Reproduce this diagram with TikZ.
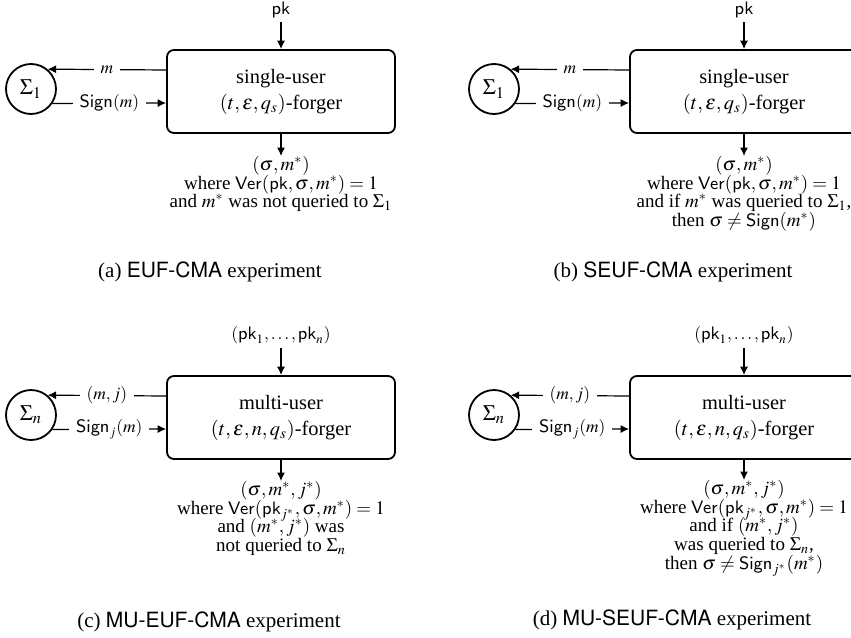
\documentclass[tikz,border=0pt]{standalone}
\usepackage{mathptmx}
\usepackage{fontspec}
\setmainfont{Liberation Serif}
\setsansfont{TeX Gyre Heros}
\usetikzlibrary{arrows.meta}

\tikzset{
  forger/.style={draw, line width=0.9pt, rounded corners=3.5pt,
    minimum width=114pt, minimum height=41.5pt, align=center, inner sep=0pt,
    font=\fontsize{10.2}{13}\selectfont},
  oracle/.style={draw, circle, line width=0.9pt, minimum size=25pt, inner sep=0pt,
    font=\fontsize{11}{12}\selectfont},
  msg/.style={line width=0.6pt, -{Latex[length=4.2pt,width=4pt]}},
  lbl/.style={fill=white, inner xsep=3.5pt, inner ysep=2pt,
    font=\fontsize{8.7}{10}\selectfont},
  outcome/.style={align=center, inner sep=0pt, anchor=north,
    font={\fontsize{9.5}{9.3}\selectfont\lineskiplimit=-6pt}},
  subcaption/.style={inner sep=0pt, font=\fontsize{10.5}{12}\selectfont},
}

\begin{document}
\begin{tikzpicture}[x=0.5pt, y=-0.5pt]
\clip (0,0) rectangle (851,637);

% (a) single-user, existential unforgeability
\node[forger] (a-box) at (281,91.5) {single-user\\$(t,\varepsilon,q_s)$-forger};
\node[oracle] (a-sig) at (31,89) {$\Sigma_1$};
\node[lbl] (a-pk) at (281,10) {$\mathsf{pk}$};
\node[outcome] (a-out) at (281,156) {$(\sigma,m^*)$\\
  where $\mathsf{Ver}(\mathsf{pk},\sigma,m^*)=1$\\
  and $m^*$ was not queried to $\Sigma_1$};
\node[subcaption] (a-cap) at (210,272) {(a) \textsf{EUF-CMA} experiment};
\draw[msg] (a-pk) -- (a-box);
\draw[msg] ([yshift=10.75pt]a-box.west) -- node[lbl] {$m$} (a-sig.50);
\draw[msg] (a-sig.-34) -- node[lbl] {$\mathsf{Sign}(m)$} ([yshift=-5.75pt]a-box.west);
\draw[msg] (a-box) -- (a-out);

% (b) single-user, strong unforgeability
\node[forger] (b-box) at (744,91.5) {single-user\\$(t,\varepsilon,q_s)$-forger};
\node[oracle] (b-sig) at (494,89) {$\Sigma_1$};
\node[lbl] (b-pk) at (744,10) {$\mathsf{pk}$};
\node[outcome] (b-out) at (744,156) {$(\sigma,m^*)$\\
  where $\mathsf{Ver}(\mathsf{pk},\sigma,m^*)=1$\\
  and if $m^*$ was queried to $\Sigma_1$,\\
  then $\sigma\neq\mathsf{Sign}(m^*)$};
\node[subcaption] (b-cap) at (673,272) {(b) \textsf{SEUF-CMA} experiment};
\draw[msg] (b-pk) -- (b-box);
\draw[msg] ([yshift=10.75pt]b-box.west) -- node[lbl] {$m$} (b-sig.50);
\draw[msg] (b-sig.-34) -- node[lbl] {$\mathsf{Sign}(m)$} ([yshift=-5.75pt]b-box.west);
\draw[msg] (b-box) -- (b-out);

% (c) multi-user, existential unforgeability
\node[forger] (c-box) at (281,417.5) {multi-user\\$(t,\varepsilon,n,q_s)$-forger};
\node[oracle] (c-sig) at (31,415) {$\Sigma_n$};
\node[lbl] (c-pk) at (281,335) {$(\mathsf{pk}_1,\ldots,\mathsf{pk}_n)$};
\node[outcome] (c-out) at (281,481) {$(\sigma,m^*,j^*)$\\
  where $\mathsf{Ver}(\mathsf{pk}_{j^*},\sigma,m^*)=1$\\
  and $(m^*,j^*)$ was\\
  not queried to $\Sigma_n$};
\node[subcaption] (c-cap) at (209,622) {(c) \textsf{MU-EUF-CMA} experiment};
\draw[msg] (c-pk) -- (c-box);
\draw[msg] ([yshift=10.75pt]c-box.west) -- node[lbl] {$(m,j)$} (c-sig.50);
\draw[msg] (c-sig.-34) -- node[lbl] {$\mathsf{Sign}_j(m)$} ([yshift=-5.75pt]c-box.west);
\draw[msg] (c-box) -- (c-out);

% (d) multi-user, strong unforgeability
\node[forger] (d-box) at (744,417.5) {multi-user\\$(t,\varepsilon,n,q_s)$-forger};
\node[oracle] (d-sig) at (494,415) {$\Sigma_n$};
\node[lbl] (d-pk) at (744,335) {$(\mathsf{pk}_1,\ldots,\mathsf{pk}_n)$};
\node[outcome] (d-out) at (744,480) {$(\sigma,m^*,j^*)$\\
  where $\mathsf{Ver}(\mathsf{pk}_{j^*},\sigma,m^*)=1$\\
  and if $(m^*,j^*)$\\
  was queried to $\Sigma_n$,\\
  then $\sigma\neq\mathsf{Sign}_{j^*}(m^*)$};
\node[subcaption] (d-cap) at (672,620) {(d) \textsf{MU-SEUF-CMA} experiment};
\draw[msg] (d-pk) -- (d-box);
\draw[msg] ([yshift=10.75pt]d-box.west) -- node[lbl] {$(m,j)$} (d-sig.50);
\draw[msg] (d-sig.-34) -- node[lbl] {$\mathsf{Sign}_j(m)$} ([yshift=-5.75pt]d-box.west);
\draw[msg] (d-box) -- (d-out);
\end{tikzpicture}
\end{document}
